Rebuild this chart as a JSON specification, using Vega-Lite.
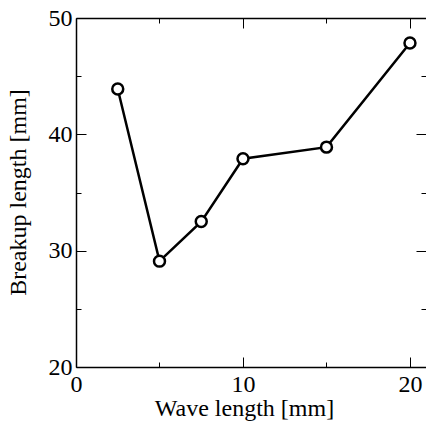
{
  "$schema": "https://vega.github.io/schema/vega-lite/v6.json",
  "width": 350,
  "height": 349,
  "autosize": "none",
  "padding": {"left": 76, "top": 18, "right": 0, "bottom": 56},
  "background": "white",
  "config": {
    "view": {"stroke": null},
    "font": "Liberation Serif",
    "style": {
      "guide-label": {"font": "Liberation Serif", "fontSize": 24, "fill": "black"},
      "guide-title": {"font": "Liberation Serif", "fontSize": 24, "fontWeight": "normal", "fill": "black"}
    },
    "axis": {
      "labelFont": "Liberation Serif",
      "titleFont": "Liberation Serif",
      "labelFontSize": 24,
      "titleFontSize": 24,
      "titleFontWeight": "normal",
      "labelFontWeight": "normal",
      "labelColor": "black",
      "titleColor": "black",
      "domainColor": "black",
      "domainWidth": 1.5,
      "tickColor": "black",
      "tickWidth": 1,
      "grid": false,
      "labelFlush": false,
      "labelOverlap": false,
      "labelBound": false
    }
  },
  "data": {
    "values": [
      {"wave": 2.5, "breakup": 43.9},
      {"wave": 5, "breakup": 29.1},
      {"wave": 7.5, "breakup": 32.5},
      {"wave": 10, "breakup": 37.9},
      {"wave": 15, "breakup": 38.9},
      {"wave": 20, "breakup": 47.85}
    ]
  },
  "layer": [
    {
      "mark": {"type": "line", "color": "black", "strokeWidth": 2.5},
      "encoding": {
        "x": {
          "field": "wave", "type": "quantitative",
          "scale": {"domain": [0, 20.96], "nice": false, "zero": false},
          "axis": {
            "orient": "bottom",
            "title": "Wave length [mm]",
            "values": [0, 5, 10, 15, 20],
            "labelExpr": "datum.value % 10 === 0 ? datum.label : ''",
            "labelFont": "Liberation Serif",
            "labelFontSize": 24,
            "tickSize": {"condition": {"test": "datum.value % 10 === 0", "value": -10}, "value": -5},
            "labelPadding": 15,
            "titleX": 168,
            "titleY": 48,
            "titleBaseline": "alphabetic"
          }
        },
        "y": {
          "field": "breakup", "type": "quantitative",
          "scale": {"domain": [20, 50], "nice": false, "zero": false},
          "axis": {
            "orient": "left",
            "title": "Breakup length [mm]",
            "values": [20, 25, 30, 35, 40, 45, 50],
            "labelExpr": "datum.value % 10 === 0 ? datum.label : ''",
            "labelFont": "Liberation Serif",
            "labelFontSize": 24,
            "tickSize": {"condition": {"test": "datum.value % 10 === 0", "value": -10}, "value": -5},
            "labelPadding": 14,
            "titleX": -51,
            "titleY": 174,
            "titleBaseline": "alphabetic",
            "titleAngle": 270
          }
        }
      }
    },
    {
      "mark": {"type": "point", "shape": "circle", "filled": true, "fill": "white", "stroke": "black", "strokeWidth": 2.5, "size": 120, "opacity": 1},
      "encoding": {
        "x": {
          "field": "wave", "type": "quantitative",
          "axis": {
            "orient": "top",
            "title": null,
            "labels": false,
            "values": [0, 5, 10, 15, 20],
            "tickSize": {"condition": {"test": "datum.value % 10 === 0", "value": -10}, "value": -5}
          }
        },
        "y": {
          "field": "breakup", "type": "quantitative",
          "axis": {
            "orient": "right",
            "title": null,
            "labels": false,
            "domain": false,
            "values": [20, 25, 30, 35, 40, 45, 50],
            "tickSize": {"condition": {"test": "datum.value % 10 === 0", "value": -10}, "value": -5}
          }
        }
      }
    }
  ],
  "resolve": {"axis": {"x": "independent", "y": "independent"}}
}
